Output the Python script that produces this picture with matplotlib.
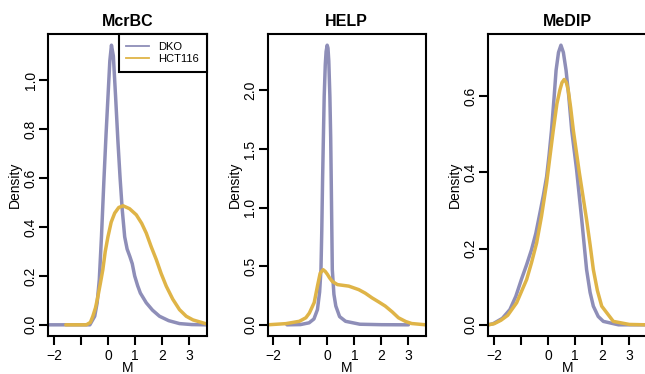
import matplotlib
matplotlib.use('Agg')
import matplotlib.pyplot as plt
from matplotlib.lines import Line2D

plt.rcParams['font.family'] = ['Liberation Sans', 'DejaVu Sans']

# values
titles = ['McrBC', 'HELP', 'MeDIP']
series = ['DKO', 'HCT116']

mcrbc_dko_x = [-2.22, -1.0, -0.67, -0.49, -0.4, -0.32, -0.24, -0.15, -0.07, 0.0, 0.07, 0.13, 0.2, 0.285, 0.37, 0.45, 0.53, 0.62, 0.71, 0.81, 0.9, 0.99, 1.1, 1.2, 1.42, 1.65, 1.91, 2.25, 2.65, 3.1, 3.64]
mcrbc_dko_y = [0.0, 0.0, 0.0, 0.035, 0.09, 0.185, 0.36, 0.59, 0.78, 0.93, 1.08, 1.144, 1.10, 0.93, 0.75, 0.6, 0.47, 0.36, 0.31, 0.28, 0.25, 0.2, 0.16, 0.13, 0.09, 0.06, 0.035, 0.017, 0.005, 0.001, 0.0]
mcrbc_hct_x = [-1.56, -0.8, -0.65, -0.56, -0.46, -0.37, -0.28, -0.19, -0.1, 0.0, 0.12, 0.25, 0.4, 0.56, 0.8, 1.05, 1.25, 1.42, 1.6, 1.79, 1.97, 2.16, 2.4, 2.65, 2.9, 3.15, 3.64]
mcrbc_hct_y = [0.0, 0.0, 0.01, 0.035, 0.07, 0.117, 0.17, 0.225, 0.3, 0.36, 0.42, 0.457, 0.48, 0.487, 0.475, 0.45, 0.415, 0.375, 0.32, 0.267, 0.21, 0.158, 0.105, 0.062, 0.035, 0.02, 0.004]

help_dko_x = [-1.5, -1.0, -0.68, -0.5, -0.37, -0.29, -0.24, -0.21, -0.18, -0.15, -0.12, -0.08, -0.05, -0.01, 0.02, 0.05, 0.09, 0.12, 0.14, 0.18, 0.24, 0.31, 0.45, 0.67, 1.2, 2.0, 3.0]
help_dko_y = [0.0, 0.002, 0.017, 0.05, 0.13, 0.28, 0.47, 0.8, 1.24, 1.6, 1.95, 2.22, 2.33, 2.385, 2.36, 2.25, 1.95, 1.6, 1.24, 0.47, 0.26, 0.16, 0.07, 0.03, 0.005, 0.001, 0.0]
help_hct_x = [-2.22, -1.54, -1.04, -0.8, -0.67, -0.49, -0.37, -0.27, -0.16, -0.08, 0.0, 0.08, 0.18, 0.37, 0.79, 1.16, 1.4, 1.65, 1.9, 2.14, 2.4, 2.63, 2.9, 3.12, 3.64]
help_hct_y = [0.0, 0.01, 0.03, 0.06, 0.1, 0.19, 0.33, 0.44, 0.47, 0.455, 0.43, 0.4, 0.37, 0.343, 0.33, 0.30, 0.27, 0.23, 0.195, 0.16, 0.11, 0.06, 0.028, 0.011, 0.0]

medip_dko_x = [-2.22, -2.04, -1.7, -1.42, -1.2, -0.99, -0.8, -0.62, -0.46, -0.31, -0.18, -0.06, 0.03, 0.12, 0.22, 0.29, 0.38, 0.47, 0.56, 0.66, 0.76, 0.87, 1.05, 1.24, 1.42, 1.55, 1.67, 1.85, 2.04, 2.6, 3.64]
medip_dko_y = [0.0, 0.003, 0.017, 0.04, 0.075, 0.12, 0.158, 0.197, 0.24, 0.293, 0.34, 0.389, 0.445, 0.51, 0.6, 0.668, 0.715, 0.734, 0.715, 0.668, 0.6, 0.51, 0.407, 0.276, 0.145, 0.085, 0.049, 0.022, 0.009, 0.0, 0.0]
medip_hct_x = [-2.22, -2.0, -1.75, -1.5, -1.17, -0.8, -0.62, -0.43, -0.25, -0.06, 0.06, 0.185, 0.32, 0.43, 0.51, 0.59, 0.67, 0.74, 0.83, 0.93, 1.15, 1.42, 1.55, 1.67, 1.82, 1.98, 2.41, 3.0, 3.64]
medip_hct_y = [0.0, 0.003, 0.012, 0.025, 0.058, 0.119, 0.163, 0.215, 0.285, 0.372, 0.44, 0.51, 0.58, 0.616, 0.636, 0.644, 0.636, 0.616, 0.57, 0.51, 0.40, 0.276, 0.21, 0.145, 0.09, 0.049, 0.009, 0.001, 0.0]

yticks = [[0.0, 0.2, 0.4, 0.6, 0.8, 1.0], [0.0, 0.5, 1.0, 1.5, 2.0], [0.0, 0.2, 0.4, 0.6]]
ytick_labels = [['0.0', '0.2', '0.4', '0.6', '0.8', '1.0'],
                ['0.0', '0.5', '1.0', '1.5', '2.0'],
                ['0.0', '0.2', '0.4', '0.6']]
xticks = [-2, -1, 0, 1, 2, 3]
xtick_labels = ['\u22122', '', '0', '1', '2', '3']

curves = [(mcrbc_dko_x, mcrbc_dko_y, mcrbc_hct_x, mcrbc_hct_y),
          (help_dko_x, help_dko_y, help_hct_x, help_hct_y),
          (medip_dko_x, medip_dko_y, medip_hct_x, medip_hct_y)]

blue = '#8e8eb8'
gold = '#dfb447'

fig = plt.figure(figsize=(6.45, 3.74), dpi=100)
lefts = [48 / 645, 267.5 / 645, 488.3 / 645]
w = 158.5 / 645
b = (374 - 336) / 374
h = (336 - 34) / 374

for i in range(3):
    ax = fig.add_axes([lefts[i], b, w, h])
    dx, dy, hx, hy = curves[i]
    ax.plot(dx, dy, color=blue, lw=2.5, solid_joinstyle='round', solid_capstyle='round')
    ax.plot(hx, hy, color=gold, lw=2.5, solid_joinstyle='round', solid_capstyle='round')
    ymax = max(max(dy), max(hy))
    ax.set_xlim(-2.22, 3.65)
    ax.set_ylim(-0.04 * ymax, 1.04 * ymax)
    ax.set_xticks(xticks)
    ax.set_xticklabels(xtick_labels)
    ax.set_yticks(yticks[i])
    ax.set_yticklabels(ytick_labels[i], rotation=90, va='center')
    ax.tick_params(direction='out', length=6.5, width=1.5, labelsize=10, pad=3)
    ax.tick_params(axis='y', pad=1)
    for s in ax.spines.values():
        s.set_linewidth(1.5)
    ax.set_title(titles[i], fontsize=11.5, fontweight='bold', pad=6)
    ax.set_xlabel('M', fontsize=10)
    ax.set_ylabel('Density', fontsize=10)
    ax.xaxis.set_label_coords(0.5, -25 / 302)
    ax.yaxis.set_label_coords(-26 / 158.5, 0.5)

    if i == 0:
        handles = [Line2D([], [], color=blue, lw=1.3), Line2D([], [], color=gold, lw=1.3)]
        leg = ax.legend(handles, series, loc='upper right', borderaxespad=0, fontsize=8,
                        fancybox=False, framealpha=1, edgecolor='black',
                        handlelength=2.0, handletextpad=0.85, borderpad=0.7,
                        labelspacing=0.2)
        leg.get_frame().set_linewidth(1.5)

fig.savefig('out.png', dpi=100)
